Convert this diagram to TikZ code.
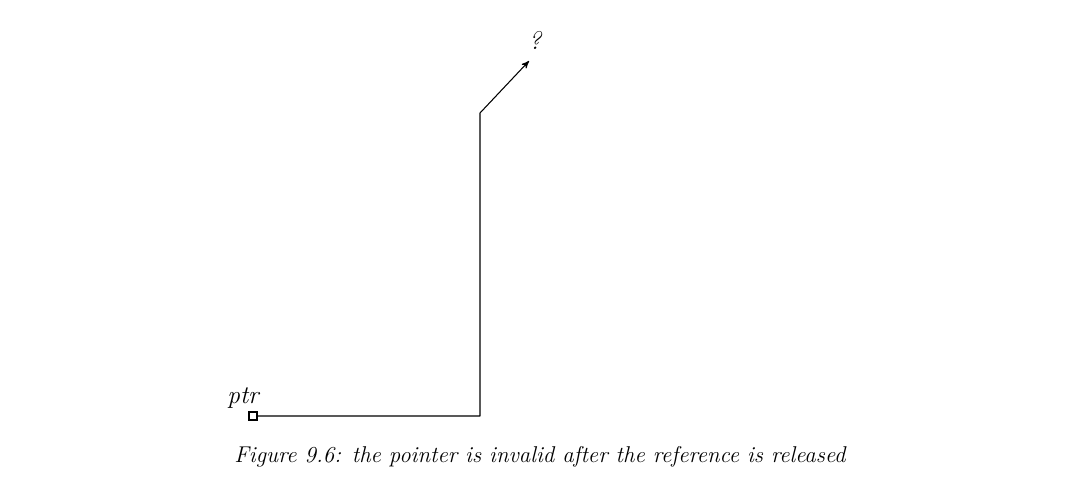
\documentclass[tikz,border=0pt]{standalone}
\usepackage{tikz}
\usetikzlibrary{arrows,positioning}

\begin{document}
\begin{tikzpicture}[x=0.02cm,y=-0.02cm]
        \useasboundingbox (0,0) rectangle (1082,478);
        \tikzset{cell/.style={draw, very thick, minimum size=8*0.02cm, inner sep=0pt},
                 ptrline/.style={semithick, line join=round}}
        % pointer cell and its name
        \node[cell] (ptr) at (253,416) {};
        \node[font=\itshape\Large, anchor=south west, inner sep=0pt] (ptrname) at (227,409) {ptr};
        % dangling target
        \node[font=\itshape\Large] (dangling) at (535,40) {?};
        \coordinate (bend1) at (480,416);
        \coordinate (bend2) at (480,113);
        \coordinate (tip) at (529,61);
        \draw[ptrline, ->, >=stealth'] (ptr.east) -- (bend1) -- (bend2) -- (tip);
        % caption
        \node[font=\itshape\fontsize{13}{15}\selectfont] (caption) at (540,457)
            {Figure 9.6: the pointer is invalid after the reference is released};
    \end{tikzpicture}
\end{document}
